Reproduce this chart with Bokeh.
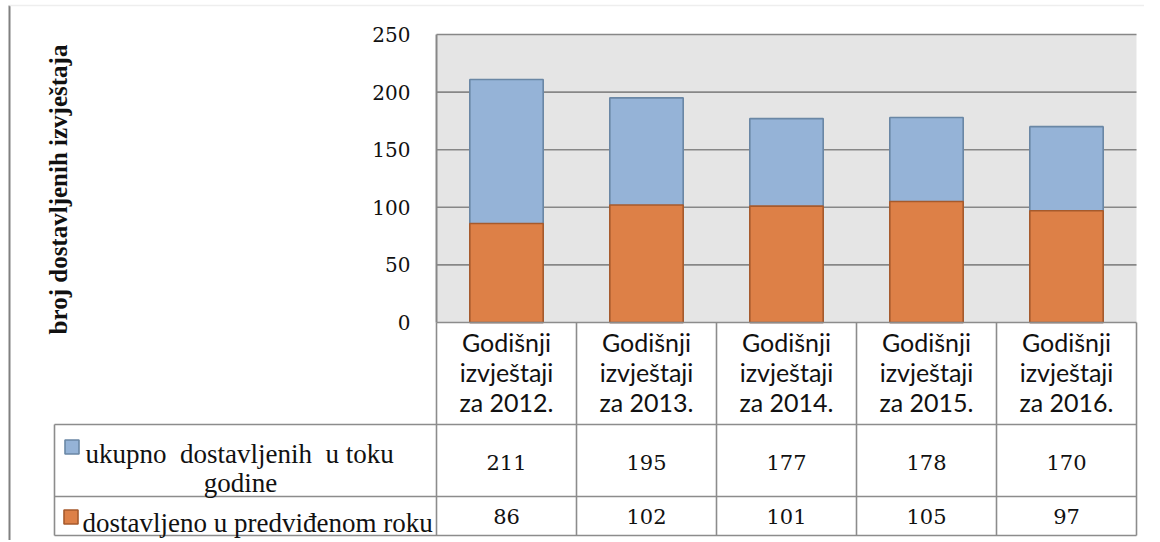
import math
from bokeh.plotting import figure
from bokeh.models import Range1d, FixedTicker
from bokeh.core.properties import value
from bokeh.embed import file_html
from bokeh.resources import INLINE

# ---------------- data ----------------
categories = ["Godišnji\nizvještaji\nza 2012.", "Godišnji\nizvještaji\nza 2013.",
              "Godišnji\nizvještaji\nza 2014.", "Godišnji\nizvještaji\nza 2015.",
              "Godišnji\nizvještaji\nza 2016."]
total_delivered = [211, 195, 177, 178, 170]
delivered_on_time = [86, 102, 101, 105, 97]
series_labels = ["ukupno\u00a0 dostavljenih\u00a0 u toku\ngodine", "dostavljeno u predviđenom roku"]
y_ticks = [0, 50, 100, 150, 200, 250]
y_title = "broj dostavljenih izvještaja"

# ---------------- layout (page pixels) ----------------
LEFT, TOP = 0, 0
W, H = 1144, 540
AX_X = 436          # x of value axis
COL_W = 140         # width of a category column
PLOT_TOP, PLOT_BOT = 34, 322
YMAX = 250
n = len(categories)
pxu = (PLOT_BOT - PLOT_TOP) / YMAX

BLUE, BLUE_LINE = "#95b3d7", "#6a87a5"
ORANGE, ORANGE_LINE = "#dd8047", "#a65a2c"
GRID = "#878787"
TABLE = "#8c8c8c"

p = figure(width=W, height=H,
           x_range=Range1d((LEFT - AX_X) / COL_W, (LEFT + W - AX_X) / COL_W),
           y_range=Range1d((PLOT_BOT - (TOP + H)) / pxu, (PLOT_BOT - TOP) / pxu),
           output_backend="svg", toolbar_location=None, min_border=0,
           title=None)
p.extra_x_ranges = {"px": Range1d(LEFT, LEFT + W)}
p.extra_y_ranges = {"px": Range1d(TOP + H, TOP)}
p.outline_line_color = None
p.background_fill_color = "white"
p.border_fill_color = "white"
p.grid.visible = False
p.xaxis.visible = False

ax = p.yaxis[0]
ax.fixed_location = 0
ax.bounds = (0, YMAX)
ax.ticker = FixedTicker(ticks=y_ticks)
ax.major_tick_out = 0
ax.major_tick_in = 0
ax.minor_tick_out = 0
ax.minor_tick_in = 0
ax.major_label_standoff = 26
ax.axis_line_color = GRID
ax.axis_line_width = 2
ax.major_label_text_font = "DejaVu Serif"
ax.major_label_text_font_size = "20px"
ax.major_label_text_color = "#111111"

xs = [i + 0.5 for i in range(n)]

# plot area background and gridlines
p.quad(left=[0], right=[n], bottom=[0], top=[YMAX], fill_color="#e5e5e5", line_color=None)
grid_vals = y_ticks[1:]
p.segment(x0=[0] * len(grid_vals), x1=[n] * len(grid_vals), y0=grid_vals, y1=grid_vals,
          line_color=GRID, line_width=1.6)

# bars (overlapping)
p.vbar(x=xs, width=0.524, bottom=0, top=total_delivered, fill_color=BLUE,
       line_color=BLUE_LINE, line_width=1.6)
p.vbar(x=xs, width=0.524, bottom=0, top=delivered_on_time, fill_color=ORANGE,
       line_color=ORANGE_LINE, line_width=1.6)

# ---------------- data table ----------------
ROW0, ROW1, ROW2, ROW3 = PLOT_BOT, 424, 496, 535
LEG_X = 54
# horizontal lines
p.segment(x0=[0], x1=[n], y0=[ROW0], y1=[ROW0], y_range_name="px",
          line_color=TABLE, line_width=1.6)
p.segment(x0=[LEG_X] * 3, x1=[AX_X + n * COL_W] * 3, y0=[ROW1, ROW2, ROW3],
          y1=[ROW1, ROW2, ROW3], x_range_name="px", y_range_name="px",
          line_color=TABLE, line_width=1.6)
# vertical lines
vx = list(range(n + 1))
p.segment(x0=vx, x1=vx, y0=[ROW0] * len(vx), y1=[ROW3] * len(vx), y_range_name="px",
          line_color=TABLE, line_width=1.6)
p.segment(x0=[LEG_X], x1=[LEG_X], y0=[ROW1], y1=[ROW3], x_range_name="px",
          y_range_name="px", line_color=TABLE, line_width=1.6)

# header labels
p.text(x=xs, y=[371] * n, text=categories, y_range_name="px",
       text_align="center", text_baseline="middle", text_font=value("Lato"),
       text_font_size="25px", text_line_height=1.0, text_color="#111111")
# values
p.text(x=xs, y=[462] * n, text=[str(v) for v in total_delivered], y_range_name="px",
       text_align="center", text_baseline="middle", text_font=value("DejaVu Serif"),
       text_font_size="21px", text_color="#111111")
p.text(x=xs, y=[516] * n, text=[str(v) for v in delivered_on_time], y_range_name="px",
       text_align="center", text_baseline="middle", text_font=value("DejaVu Serif"),
       text_font_size="21px", text_color="#111111")

# legend keys + labels
p.rect(x=[71.5, 70.5], y=[446.5, 516.5], width=14, height=14, x_range_name="px",
       y_range_name="px", fill_color=[BLUE, ORANGE], line_color=[BLUE_LINE, ORANGE_LINE],
       line_width=1.6)
l1a, l1b = series_labels[0].split("\n")
p.text(x=[85], y=[453], text=[l1a], x_range_name="px", y_range_name="px",
       text_align="left", text_baseline="alphabetic", text_font=value("Liberation Serif"),
       text_font_size="27px", text_color="#111111")
p.text(x=[240], y=[482], text=[l1b], x_range_name="px", y_range_name="px",
       text_align="center", text_baseline="alphabetic", text_font=value("Liberation Serif"),
       text_font_size="27px", text_color="#111111")
p.text(x=[82], y=[522], text=[series_labels[1]], x_range_name="px", y_range_name="px",
       text_align="left", text_baseline="alphabetic", text_font=value("Liberation Serif"),
       text_font_size="27px", text_color="#111111")

# y title
p.text(x=[58], y=[189], text=[y_title], x_range_name="px", y_range_name="px",
       angle=math.pi / 2, text_align="center", text_baseline="middle",
       text_font=value("Liberation Serif"), text_font_style="bold",
       text_font_size="25px", text_color="#111111")

# page border lines
p.segment(x0=[9], x1=[9], y0=[5], y1=[TOP + H], x_range_name="px", y_range_name="px",
          line_color="#808080", line_width=2)
p.segment(x0=[9], x1=[LEFT + W], y0=[5], y1=[5], x_range_name="px", y_range_name="px",
          line_color="#eeeeee", line_width=1.5)

open("out.html", "w").write(file_html(p, INLINE))
